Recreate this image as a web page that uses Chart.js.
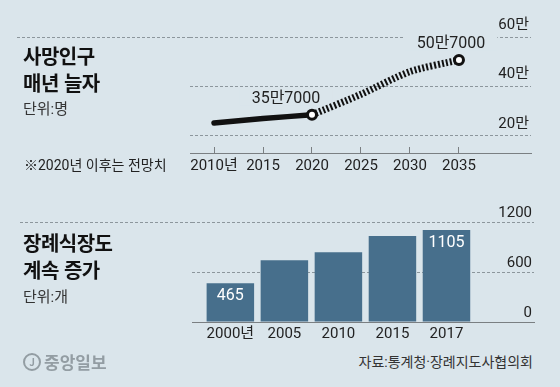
<!DOCTYPE html>
<html lang="ko">
<head>
  <meta charset="UTF-8" />
  <title>사망인구 매년 늘자 · 장례식장도 계속 증가</title>
  <script src="https://cdn.jsdelivr.net/npm/chart.js"></script>
  <style>
    body {
      margin: 0;
      background: #dae5eb;
      font-family: Roboto, 'Noto Sans CJK KR', sans-serif;
      color: #222;
    }

    #wrap {
      position: relative;
      width: 560px;
      height: 387px;
      overflow: hidden;
    }

    canvas {
      position: absolute;
      left: 0;
    }

    .title {
      position: absolute;
      left: 23px;
      font-family: 'Noto Sans CJK KR', sans-serif;
      font-size: 20px;
      line-height: 27px;
      font-weight: 700;
      color: #111;
      letter-spacing: -0.5px;
    }

    .unit {
      position: absolute;
      left: 23px;
      font-size: 15px;
      line-height: 20px;
      color: #333;
    }

    .note {
      position: absolute;
      left: 24px;
      top: 155px;
      font-size: 14px;
      line-height: 20px;
      color: #222;
    }

    .source {
      position: absolute;
      right: 27px;
      top: 352px;
      font-size: 14px;
      line-height: 20px;
      color: #333;
    }

    .logo {
      position: absolute;
      left: 23px;
      top: 352px;
      font-family: 'Noto Sans CJK KR', sans-serif;
      font-size: 17px;
      line-height: 20px;
      font-weight: 700;
      color: #939da3;
      display: flex;
      align-items: center;
      gap: 3px;
    }

    .logo span.j {
      display: inline-block;
      width: 14px;
      height: 14px;
      border: 2px solid #939da3;
      border-radius: 50%;
      font-size: 10px;
      line-height: 14px;
      text-align: center;
    }
  </style>
</head>
<body>
  <div id="wrap">
    <canvas id="deaths" width="560" height="190" style="top:0"></canvas>
    <canvas id="halls" width="560" height="160" style="top:190px"></canvas>

    <div class="title" style="top:42px">사망인구<br>매년 늘자</div>
    <div class="unit" style="top:99px">단위:명</div>
    <div class="note">※2020년 이후는 전망치</div>

    <div class="title" style="top:229px">장례식장도<br>계속 증가</div>
    <div class="unit" style="top:287px">단위:개</div>

    <div class="logo"><span class="j">J</span>중앙일보</div>
    <div class="source">자료:통계청·장례지도사협의회</div>
  </div>

  <script>
    // 사망인구 (명)
    const deathYears = [2010, 2015, 2020, 2025, 2030, 2035];
    const deathLabels = ['2010년', '2015', '2020', '2025', '2030', '2035'];
    const deathActual = [252000, 270000, 285000, null, null, null];
    const deathForecast = [null, null, 285000, 368000, 460000, 507000];
    const deathNotes = ['', '', '35만7000', '', '', '50만7000'];
    const deathTicks = [200000, 400000, 600000];

    // 장례식장 (개)
    const hallLabels = ['2000년', '2005', '2010', '2015', '2017'];
    const hallValues = [465, 740, 836, 1032, 1105];
    const hallNotes = ['465', '', '', '', '1105'];
    const hallTicks = [0, 600, 1200];

    const BG = '#dae5eb';
    const GRID = '#8c969c';
    const AXIS = '#7a7f82';
    const TEXT = '#222';
    const BAR = '#476f8c';
    const FONT = "Roboto, 'Noto Sans CJK KR', sans-serif";

    Chart.defaults.font.family = FONT;
    Chart.defaults.color = TEXT;

    function points(years, values) {
      const out = [];
      years.forEach((x, i) => {
        if (values[i] !== null) out.push({ x: x, y: values[i] });
      });
      return out;
    }

    // 왼쪽으로 이어지는 점선 (제목 구분선)
    function divider(chart, scaleId, value, fromX) {
      const ctx = chart.ctx;
      const y = Math.round(chart.scales[scaleId].getPixelForValue(value)) + 0.5;
      ctx.save();
      ctx.strokeStyle = GRID;
      ctx.lineWidth = 1;
      ctx.setLineDash([3, 2]);
      ctx.beginPath();
      ctx.moveTo(fromX, y);
      ctx.lineTo(chart.chartArea.left, y);
      ctx.stroke();
      ctx.restore();
    }

    const deathNotesPlugin = {
      id: 'deathNotes',
      beforeDatasetsDraw(chart) {
        divider(chart, 'y', 600000, 17);
        const ctx = chart.ctx;
        const meta = chart.getDatasetMeta(0);
        const shift = { 2020: -26, 2035: -8 }; // 라벨 위치 보정
        ctx.save();
        ctx.font = '16px ' + FONT;
        ctx.textAlign = 'center';
        ctx.textBaseline = 'middle';
        meta.data.forEach((pt, i) => {
          const raw = chart.data.datasets[0].data[i];
          const text = deathNotes[deathYears.indexOf(raw.x)];
          if (!text) return;
          const cx = pt.x + shift[raw.x];
          const cy = pt.y - 17;
          const w = ctx.measureText(text).width;
          ctx.fillStyle = BG;
          ctx.fillRect(cx - w / 2 - 12, cy - 8, w + 24, 16);
          ctx.fillStyle = TEXT;
          ctx.fillText(text, cx, cy + 1);
        });
        ctx.restore();
      }
    };

    new Chart(document.getElementById('deaths'), {
      type: 'line',
      data: {
        datasets: [
          {
            // 전망치 (점선)
            data: points(deathYears, deathForecast),
            borderColor: '#111',
            borderWidth: 7,
            borderDash: [2, 2],
            borderCapStyle: 'butt',
            tension: 0.25,
            pointRadius: ctx => deathNotes[deathYears.indexOf(ctx.raw.x)] ? 4.5 : 0,
            pointBorderWidth: 3,
            pointBorderColor: '#111',
            pointBackgroundColor: '#fff'
          },
          {
            // 실적 (실선)
            data: points(deathYears, deathActual),
            borderColor: '#111',
            borderWidth: 5.5,
            borderCapStyle: 'round',
            tension: 0.3,
            pointRadius: 0
          }
        ]
      },
      options: {
        responsive: false,
        animation: false,
        layout: { padding: { left: 190, right: 29, top: 37, bottom: 7 } },
        plugins: { legend: { display: false }, tooltip: { enabled: false } },
        scales: {
          x: {
            type: 'linear',
            min: 2007.55,
            max: 2042.35,
            afterBuildTicks: s => { s.ticks = deathYears.map(v => ({ value: v })); },
            afterFit: s => { s.height = 30; },
            grid: { display: true, drawOnChartArea: false, drawTicks: true, tickLength: -6, color: AXIS },
            border: { display: true, color: AXIS, width: 1 },
            ticks: {
              autoSkip: false,
              maxRotation: 0,
              padding: 10,
              font: { size: 15 },
              color: TEXT,
              callback: (v, i) => deathLabels[i]
            }
          },
          y: {
            position: 'right',
            min: 130400,
            max: 600000,
            afterBuildTicks: s => { s.ticks = deathTicks.map(v => ({ value: v })); },
            afterFit: s => { s.width = 0; },
            grid: { color: GRID, drawTicks: false },
            border: { display: false, dash: [3, 2] },
            ticks: {
              mirror: true,
              padding: -2,
              labelOffset: -12,
              font: { size: 15 },
              color: TEXT,
              callback: v => (v / 10000) + '만'
            }
          }
        }
      },
      plugins: [deathNotesPlugin]
    });

    const hallNotesPlugin = {
      id: 'hallNotes',
      beforeDatasetsDraw(chart) {
        divider(chart, 'y', 1200, 20);
      },
      afterDatasetsDraw(chart) {
        const ctx = chart.ctx;
        ctx.save();
        ctx.font = '16px ' + FONT;
        ctx.fillStyle = '#fff';
        ctx.textAlign = 'center';
        ctx.textBaseline = 'middle';
        chart.getDatasetMeta(0).data.forEach((bar, i) => {
          if (hallNotes[i]) ctx.fillText(hallNotes[i], bar.x, bar.y + 13);
        });
        ctx.restore();
      }
    };

    new Chart(document.getElementById('halls'), {
      type: 'bar',
      data: {
        datasets: [{
          data: hallValues.map((y, i) => ({ x: i, y: y })),
          backgroundColor: BAR,
          categoryPercentage: 1,
          barPercentage: 0.879
        }]
      },
      options: {
        responsive: false,
        animation: false,
        layout: { padding: { left: 192, right: 26, top: 32, bottom: 0 } },
        plugins: { legend: { display: false }, tooltip: { enabled: false } },
        scales: {
          x: {
            type: 'linear',
            offset: false,
            min: -0.71,
            max: 5.62,
            afterBuildTicks: s => { s.ticks = hallLabels.map((l, i) => ({ value: i })); },
            afterFit: s => { s.height = 28; },
            grid: { display: false, drawTicks: false },
            border: { display: true, color: AXIS, width: 1 },
            ticks: {
              autoSkip: false,
              maxRotation: 0,
              padding: 3,
              font: { size: 15 },
              color: TEXT,
              callback: (v, i) => hallLabels[i]
            }
          },
          y: {
            position: 'right',
            min: 0,
            max: 1200,
            afterBuildTicks: s => { s.ticks = hallTicks.map(v => ({ value: v })); },
            afterFit: s => { s.width = 0; },
            grid: { color: GRID, drawTicks: false },
            border: { display: false, dash: [3, 2] },
            ticks: {
              mirror: true,
              padding: -2,
              labelOffset: -8.5,
              font: { size: 15 },
              color: TEXT,
              callback: v => String(v)
            }
          }
        }
      },
      plugins: [hallNotesPlugin]
    });
  </script>
</body>
</html>
